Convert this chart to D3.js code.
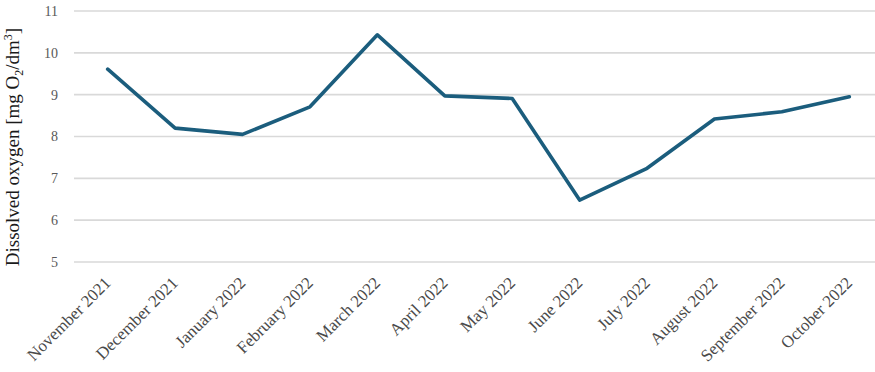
<!DOCTYPE html>
<html><head><meta charset="utf-8">
<script src="https://cdn.jsdelivr.net/npm/d3@7"></script>
<style>html,body{margin:0;padding:0;background:#fff;overflow:hidden}</style>
</head><body>
<svg id="c" width="875" height="372"></svg>
<script>
const months = ["November 2021","December 2021","January 2022","February 2022","March 2022","April 2022","May 2022","June 2022","July 2022","August 2022","September 2022","October 2022"];
const oxygen = [9.61, 8.2, 8.05, 8.71, 10.43, 8.97, 8.91, 6.48, 7.24, 8.42, 8.59, 8.95];
const yTicks = [5, 6, 7, 8, 9, 10, 11];

const FONT = '"Liberation Serif", "Times New Roman", serif';
const svg = d3.select("#c");
const x = d3.scaleBand().domain(months).range([74, 883]);
const y = d3.scaleLinear().domain([5, 11]).range([262, 11]);

svg.append("g").selectAll("line").data(yTicks).join("line")
  .attr("x1", 74).attr("x2", 875)
  .attr("y1", d => y(d)).attr("y2", d => y(d))
  .attr("stroke", "#d9d9d9").attr("stroke-width", 1.6);

svg.append("g").selectAll("text").data(yTicks).join("text")
  .attr("x", 58).attr("y", d => y(d)).attr("dy", "0.35em")
  .attr("text-anchor", "end")
  .style("font-family", FONT).style("font-size", "14px")
  .attr("fill", "#595959").text(d => d);

svg.append("g").selectAll("text").data(months).join("text")
  .attr("transform", d => `translate(${x(d) + x.bandwidth()/2 + 4},${284}) rotate(-45)`)
  .attr("text-anchor", "end")
  .style("font-family", FONT).style("font-size", "17px")
  .attr("fill", "#4a4a4a").text(d => d);

const t = svg.append("text")
  .attr("transform", "translate(19,147) rotate(-90)")
  .attr("text-anchor", "middle")
  .style("font-family", FONT).style("font-size", "19px")
  .attr("fill", "#1a1a1a");
t.append("tspan").text("Dissolved oxygen [mg O");
t.append("tspan").style("font-size", "12px").attr("dy", 4).text("2");
t.append("tspan").attr("dy", -4).text("/dm");
t.append("tspan").style("font-size", "12px").attr("dy", -7).text("3");
t.append("tspan").attr("dy", 7).text("]");

const line = d3.line().x((d, i) => x(months[i]) + x.bandwidth()/2).y(d => y(d));
svg.append("path").datum(oxygen).attr("d", line)
  .attr("fill", "none").attr("stroke", "#1b5d7d").attr("stroke-width", 3.6)
  .attr("stroke-linejoin", "round").attr("stroke-linecap", "round");
</script>
</body></html>
